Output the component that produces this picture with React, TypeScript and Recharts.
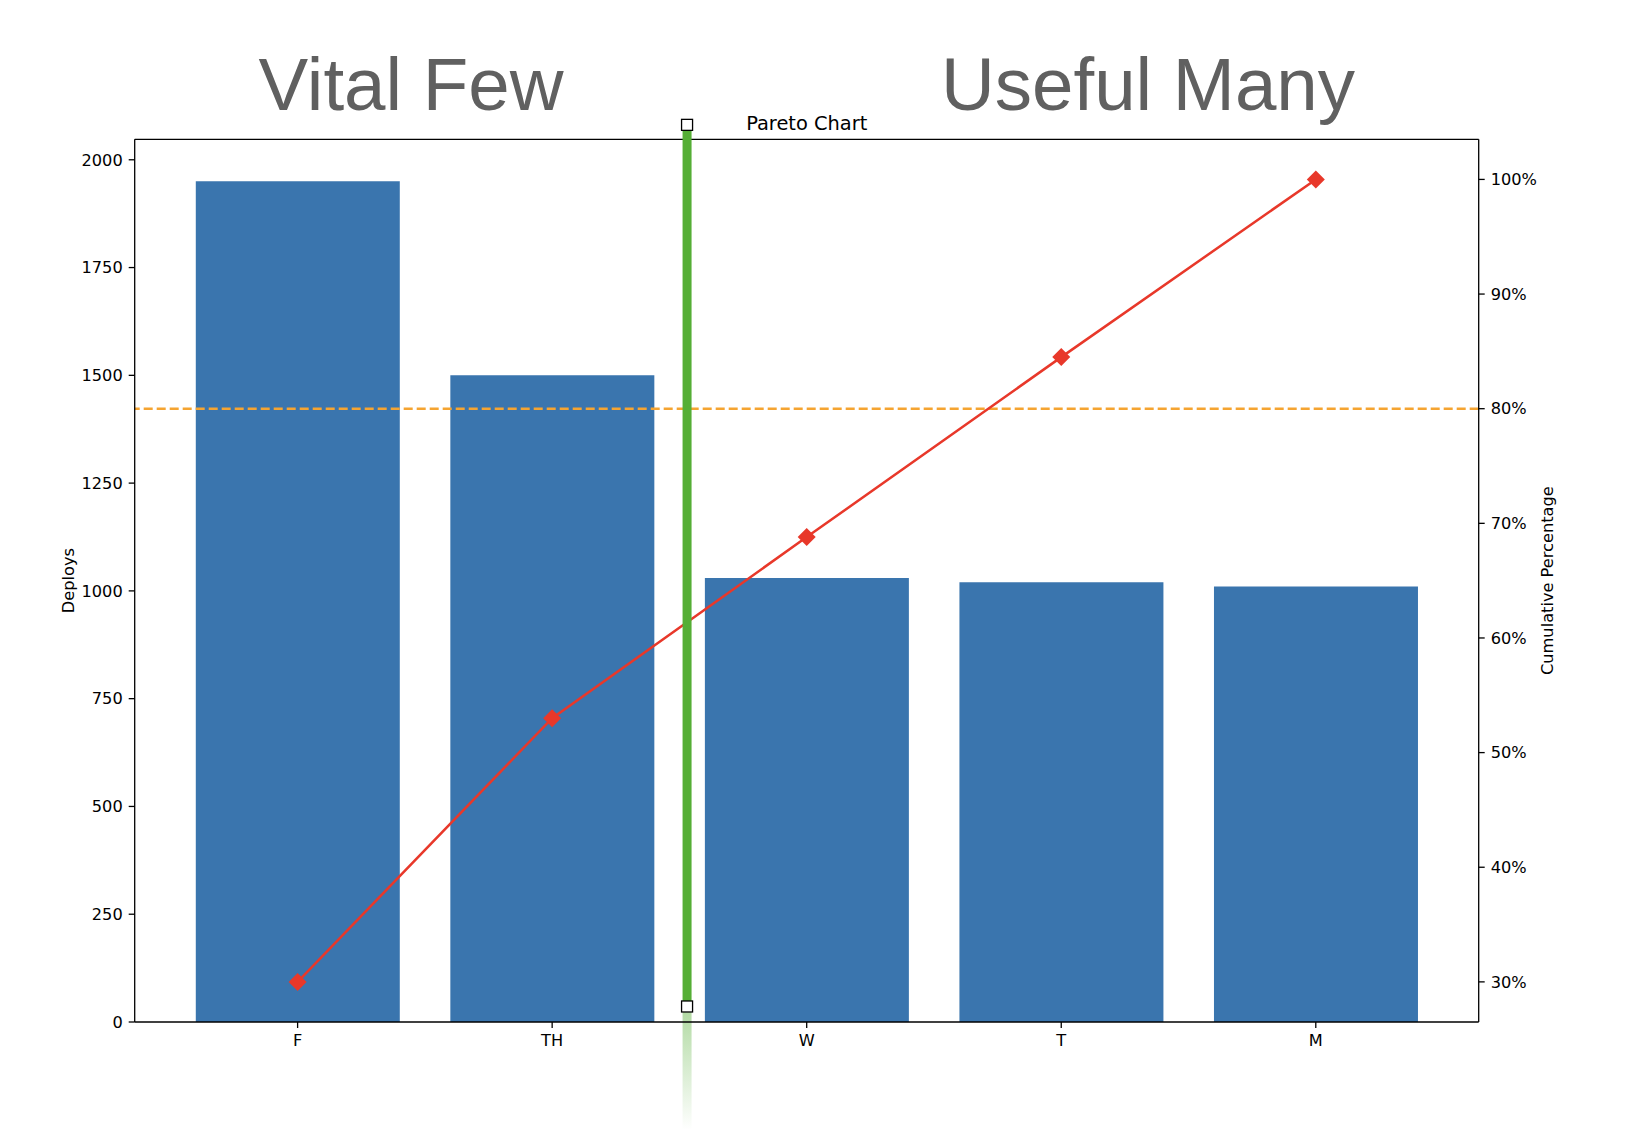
import React from 'react';
import { ComposedChart, Bar, Line, XAxis, YAxis, ReferenceLine } from 'recharts';

// values
const categories = ['F', 'TH', 'W', 'T', 'M'];
const deploys = [1950, 1500, 1030, 1020, 1010];
const cumulativePct = [30.0, 53.0, 68.8, 84.5, 100];

const deployTicks = [0, 250, 500, 750, 1000, 1250, 1500, 1750, 2000];
const pctTicks = [30, 40, 50, 60, 70, 80, 90, 100];
const categoryTicks = [0, 1, 2, 3, 4];

const threshold = 80;
const splitAt = 1.53;

const data = categories.map((name, i) => ({
    idx: i,
    name,
    deploys: deploys[i],
    cum: cumulativePct[i],
}));

const BAR = '#3a75ae';
const RED = '#e8382a';
const ORANGE = '#f5a431';
const GREEN = '#55ae35';
const FONT = '"DejaVu Sans", sans-serif';
const TICK_FS = 16.2;

const tickStyle = { fill: '#000', fontSize: TICK_FS, fontFamily: FONT };
const axisStroke = { stroke: '#000', strokeWidth: 1.3 };

const Diamond = (props: any) => {
    const { cx, cy, index } = props;
    if (cx == null || cy == null) return null;
    const r = 9;
    return (
        <polygon
            key={`d-${index}`}
            points={`${cx},${cy - r} ${cx + r},${cy} ${cx},${cy + r} ${cx - r},${cy}`}
            fill={RED}
        />
    );
};

const SplitMarker = (props: any) => {
    const { x1, y1, y2 } = props;
    const x = x1;
    const top = Math.min(y1, y2);
    const bottom = Math.max(y1, y2);
    const s = 11;
    return (
        <g>
            <defs>
                <linearGradient id="splitTail" x1="0" y1="0" x2="0" y2="1">
                    <stop offset="0" stopColor={GREEN} stopOpacity={0.45} />
                    <stop offset="1" stopColor={GREEN} stopOpacity={0} />
                </linearGradient>
            </defs>
            <rect x={x - 4.5} y={bottom + 5.5} width={9} height={118} fill="url(#splitTail)" />
            <line x1={x} y1={top} x2={x} y2={bottom} stroke={GREEN} strokeWidth={9} />
            <rect x={x - s / 2} y={top - s / 2} width={s} height={s} fill="#fff" stroke="#000" strokeWidth={1.3} />
            <rect x={x - s / 2} y={bottom - s / 2} width={s} height={s} fill="#fff" stroke="#000" strokeWidth={1.3} />
        </g>
    );
};

const axisLabel = (text: string, x: number) => ({ viewBox }: any) => {
    const cy = viewBox.y + viewBox.height / 2;
    return (
        <text
            x={x}
            y={cy}
            transform={`rotate(-90 ${x} ${cy})`}
            textAnchor="middle"
            dominantBaseline="central"
            fontSize={TICK_FS}
            fontFamily={FONT}
            fill="#000"
        >
            {text}
        </text>
    );
};

export default function App() {
    const leftMax = 2047.5;

    return (
        <div style={{ position: 'absolute', left: 0, top: 0, width: 1626, height: 1140, background: '#fff' }}>
            <ComposedChart
                width={1626}
                height={1140}
                data={data}
                margin={{ top: 139.3, right: 77.3, bottom: 78, left: 64.7 }}
                barCategoryGap="10%"
                style={{ fontFamily: FONT }}
            >
                {/* Big headings */}
                <text x={411} y={110} textAnchor="middle" fontSize={74.5} fill="#606060"
                    fontFamily='"Liberation Sans", Arial, sans-serif'>Vital Few</text>
                <text x={1148} y={110} textAnchor="middle" fontSize={74.5} fill="#606060"
                    fontFamily='"Liberation Sans", Arial, sans-serif'>Useful Many</text>

                {/* Title */}
                <text x={806.7} y={130} textAnchor="middle" fontSize={19.4} fill="#000" fontFamily={FONT}>
                    Pareto Chart
                </text>

                <XAxis
                    dataKey="idx"
                    type="number"
                    domain={[-0.64, 4.64]}
                    ticks={categoryTicks}
                    tickFormatter={(v: number) => categories[v]}
                    height={40}
                    tickSize={6}
                    tickMargin={6}
                    tick={tickStyle}
                    tickLine={axisStroke}
                    axisLine={axisStroke}
                    interval={0}
                />
                <YAxis
                    yAxisId="left"
                    domain={[0, leftMax]}
                    ticks={deployTicks}
                    width={70}
                    tickSize={6}
                    tickMargin={6}
                    tick={tickStyle}
                    tickLine={axisStroke}
                    axisLine={axisStroke}
                    interval={0}
                    label={{ content: axisLabel('Deploys', 69) }}
                />
                <YAxis
                    yAxisId="right"
                    orientation="right"
                    domain={[26.5, 103.5]}
                    ticks={pctTicks}
                    tickFormatter={(v: number) => `${v}%`}
                    width={70}
                    tickSize={6}
                    tickMargin={6}
                    tick={tickStyle}
                    tickLine={axisStroke}
                    axisLine={axisStroke}
                    interval={0}
                    label={{ content: axisLabel('Cumulative Percentage', 1548) }}
                />

                <Bar yAxisId="left" dataKey="deploys" fill={BAR} isAnimationActive={false} />

                {/* top spine */}
                <ReferenceLine yAxisId="left" y={leftMax} stroke="#000" strokeWidth={1.3} ifOverflow="visible" />

                <ReferenceLine
                    yAxisId="right"
                    y={threshold}
                    stroke={ORANGE}
                    strokeWidth={2.5}
                    strokeDasharray="9 4"
                />

                <Line
                    yAxisId="right"
                    dataKey="cum"
                    stroke={RED}
                    strokeWidth={2.5}
                    dot={Diamond}
                    activeDot={false}
                    isAnimationActive={false}
                />

                <ReferenceLine
                    yAxisId="left"
                    segment={[{ x: splitAt, y: 36 }, { x: splitAt, y: 2081 }]}
                    ifOverflow="visible"
                    shape={SplitMarker}
                />
            </ComposedChart>
        </div>
    );
}
